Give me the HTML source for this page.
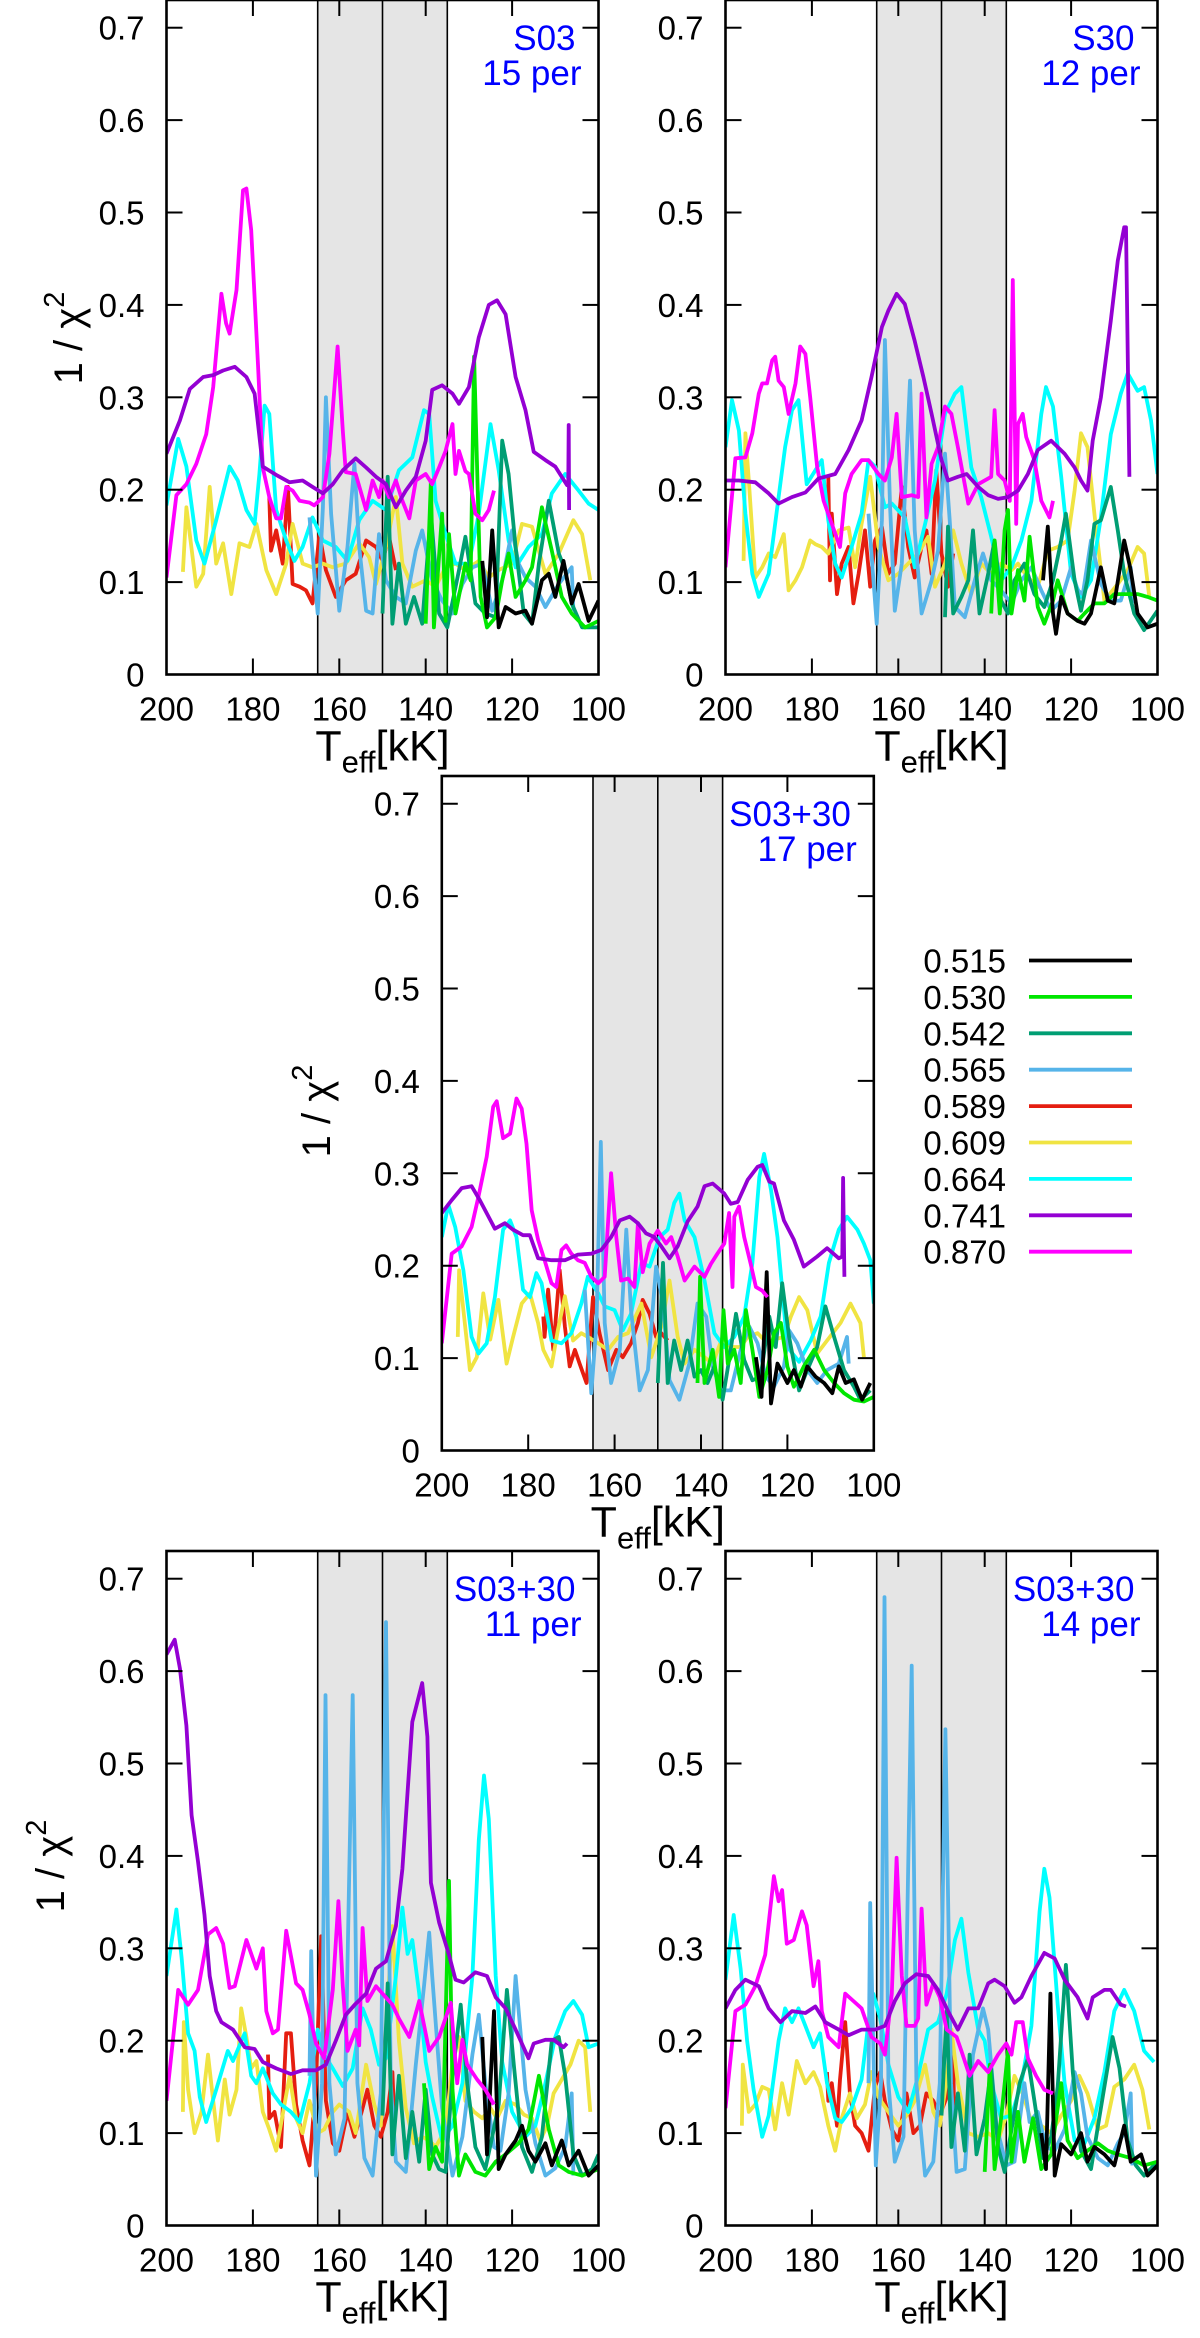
<!DOCTYPE html>
<html><head><meta charset="utf-8"><title>1/chi2 vs Teff</title>
<style>
html,body{margin:0;padding:0;background:#fff;}
svg{display:block;font-family:"Liberation Sans",sans-serif;}
</style></head>
<body>
<svg id="chart" width="1200" height="2338" viewBox="0 0 1200 2338" xmlns="http://www.w3.org/2000/svg"></svg>
<script>
// ---- data (Teff in kK, values 1/chi^2) ----
const xTicks=[200,180,160,140,120,100];
const yTicks=[0,0.1,0.2,0.3,0.4,0.5,0.6,0.7];
const yTickLabels=['0','0.1','0.2','0.3','0.4','0.5','0.6','0.7'];
const bandEdges=[165,150,135];
const massLabels=['0.515','0.530','0.542','0.565','0.589','0.609','0.664','0.741','0.870'];

// Panel 1 (S03 15 per)
const P1_T_870=[200,197.7,195.4,193.1,190.8,189.2,187.3,186.2,185.4,183.8,182.3,181.5,180.4,178.8,177.7,176.2,174.6,173.5,172.3,170.8,169.2,166.9,165.8,163.8,162.3,160.4,159.2,158.5,156.2,153.8,152.3,150.8,150,148.5,146.9,145.4,143.8,142.3,140,138.5,136.9,135.4,133.8,133.1,132.3,130.8,130,128.5,126.9,125.4,124.2];
const P1_V_870=[.105,.194,.206,.228,.26,.311,.412,.38,.369,.416,.524,.526,.481,.333,.224,.192,.169,.169,.203,.199,.188,.186,.183,.192,.239,.355,.264,.219,.217,.178,.21,.192,.21,.192,.21,.188,.169,.21,.217,.206,.224,.242,.271,.217,.242,.22,.217,.174,.167,.178,.199];
const P1_T_741=[200,196.9,194.6,191.5,189.2,186.9,184.2,181.5,179.6,177.7,174.6,171.5,168.5,166.2,163.8,161.5,159.2,156.2,153.8,151.5,149.2,146.9,144.6,142.3,140,138.5,136.2,133.8,132.3,130,127.7,125.4,123.5,121.5,119.2,116.9,115,112.3,110,107.3,107,106.9,106.8];
const P1_V_741=[.239,.275,.309,.322,.324,.329,.333,.322,.304,.225,.216,.208,.21,.203,.196,.206,.221,.234,.224,.214,.206,.181,.199,.214,.253,.308,.313,.304,.293,.311,.365,.4,.405,.39,.322,.286,.241,.232,.225,.205,.21,.27,.178];
const P1_T_664=[200,197.3,195.4,193.1,191.2,188.5,185.4,183.5,181.5,179.6,178.5,177.3,176.2,174.6,172.3,170.4,168.5,166.2,163.8,160.8,158.1,155.4,152.3,149.2,146.2,143.1,140.4,139.2,137.7,135.4,133.1,130,127.7,125,123.1,120.8,119.2,116.2,113.1,110.8,107.7,104.6,102.3,100];
const P1_V_664=[.183,.255,.225,.145,.12,.167,.225,.21,.178,.163,.217,.291,.282,.178,.145,.123,.138,.17,.145,.138,.123,.167,.188,.178,.221,.235,.286,.282,.188,.152,.12,.12,.174,.271,.221,.145,.116,.138,.152,.196,.217,.199,.185,.178];
const P1_T_609=[196.2,195.4,193.1,191.5,190,188.5,186.9,185,183.1,180.8,179.2,176.9,174.6,172.3,170.8,168.5,166.2,163.8,161.5,158.5,155.4,153.1,151.5,149.2,146.9,145.4,143.1,140,137.7,135.4,133.1,130.8,127.7,125.4,123.1,120,117.7,115.4,112.3,109.2,105.8,103.8,101.9];
const P1_V_609=[.111,.181,.095,.109,.203,.12,.142,.087,.142,.138,.163,.113,.087,.12,.163,.12,.116,.12,.116,.12,.142,.127,.098,.138,.192,.12,.095,.102,.095,.116,.12,.113,.123,.105,.113,.12,.163,.16,.109,.131,.167,.152,.102];
const P1_T_589=[176.2,175.8,174.6,173.1,171.9,170.8,169.2,167.7,166.2,164.6,163.1,160.8,158.5,156.2,153.8,151.5,150,148.5,146.9];
const P1_V_589=[.192,.134,.156,.12,.203,.098,.095,.091,.077,.152,.113,.084,.102,.109,.145,.138,.123,.149,.113];
const P1_T_565=[166.9,165,163.8,163.1,161.9,160,158.1,156.5,155.4,153.8,152.3,150.8,149.2,146.9,144.6,142.3,140.8,138.5,136.2,133.8,131.5,129.2,126.9,124.6,122.3,120,118.5,116.9,114.6,112.3,109.2,106.2,105.8];
const P1_V_565=[.17,.066,.181,.3,.174,.069,.138,.228,.138,.069,.066,.152,.102,.084,.077,.134,.156,.102,.08,.066,.098,.116,.12,.069,.102,.156,.12,.105,.095,.073,.098,.116,.069];
const P1_T_542=[150,148.8,147.7,146.2,144.6,142.7,140.8,138.8,136.9,135,132.3,130.8,128.5,126.2,123.8,122.3,120.8,119.2,117.3,115.4,113.8,111.5,109.2,107.7,106.2,103.8,100];
const P1_V_542=[.066,.214,.055,.12,.055,.084,.055,.174,.066,.051,.113,.149,.077,.066,.062,.253,.217,.138,.066,.055,.12,.188,.131,.113,.077,.051,.051];
const P1_T_530=[140,138.8,138.1,136.2,135.4,134.6,133.1,130.8,129.6,128.8,127.3,125.8,123.8,122.3,120.8,119.2,116.9,115.4,113.1,110.8,108.5,106.2,103.1,100];
const P1_V_530=[.055,.21,.051,.174,.058,.152,.066,.12,.102,.344,.084,.051,.062,.102,.131,.084,.102,.116,.181,.134,.084,.066,.051,.058];
const P1_T_515=[126.9,125.8,124.6,123.1,121.5,119.2,116.9,115.4,113.1,111.5,110,108.1,106.2,104.6,102.3,100];
const P1_V_515=[.123,.062,.156,.051,.073,.066,.069,.055,.102,.109,.084,.123,.077,.098,.058,.08];

// Panel 2 (S30 12 per)
const P2_T_741=[200,196.9,193.1,190,187.7,184.6,181.5,178.5,174.6,171.5,168.5,166.2,163.8,162.3,160.4,158.5,156.2,154.2,152.3,150,148.5,146.2,144.2,141.5,139.2,136.9,134.6,132.3,130,127.7,124.6,121.5,119.2,117.7,116.2,115,113.1,110.8,109.2,107.7,107.3,106.5];
const P2_V_741=[.21,.21,.208,.196,.185,.192,.197,.212,.217,.243,.275,.322,.376,.394,.412,.401,.361,.322,.282,.232,.21,.214,.217,.203,.194,.19,.192,.199,.217,.243,.253,.239,.224,.21,.199,.253,.3,.383,.448,.484,.484,.214];
const P2_T_870=[200,197.7,195.4,193.8,192.3,191.5,190.4,189.2,188.5,187.7,186.5,185.4,183.8,182.7,181.5,180.4,178.8,177.3,175.4,173.5,172.3,170.8,168.5,166.9,164.6,163.1,161.5,160.4,159.2,156.9,155.4,154.6,153.5,152.3,150.8,149.2,147.7,146.2,143.8,141.5,138.5,137.7,136.9,135.4,134.2,133.5,132.7,132.3,131.2,130.4,128.5,126.9,125,124.2];
const P2_V_870=[.116,.234,.235,.261,.304,.315,.315,.34,.344,.318,.311,.282,.315,.355,.347,.3,.225,.188,.163,.138,.196,.217,.232,.232,.217,.21,.235,.282,.192,.194,.192,.304,.17,.228,.246,.29,.282,.246,.185,.206,.214,.286,.217,.21,.188,.427,.163,.271,.282,.257,.232,.188,.17,.188];
const P2_T_664=[200,198.5,196.9,195.4,193.8,192.3,190,187.7,186.2,184.6,183.1,181.2,179.2,177.7,176.2,174.6,173.1,170.8,168.5,166.9,165.4,163.1,161.5,158.5,156.2,153.8,151.5,149.2,146.9,145.4,143.1,140.8,138.5,136.2,133.8,131.5,129.2,126.9,125.8,124.2,122.3,120,117.7,115.4,113.1,110.8,108.5,106.9,104.6,103.1,101.5,100];
const P2_V_664=[.246,.297,.264,.174,.109,.084,.109,.192,.246,.286,.297,.206,.221,.232,.167,.12,.105,.138,.174,.232,.225,.181,.185,.17,.116,.163,.21,.282,.304,.311,.224,.192,.149,.102,.116,.145,.188,.282,.311,.29,.214,.109,.084,.102,.17,.26,.304,.326,.307,.311,.275,.217];
const P2_T_609=[195.8,195.4,194.6,193.1,191.5,190,188.5,186.5,185.4,183.8,182.3,180.4,179.2,177.7,176.2,173.8,171.5,170,168.5,166.5,164.6,162.3,160,157.7,155.4,153.1,151.5,149.2,147.3,145.4,143.1,140.8,138.5,136.2,133.8,132.3,130,127.7,125.4,123.1,120.8,119.2,117.7,116.2,114.6,112.3,109.2,106.9,104.6,103.1,101.9];
const P2_V_609=[.123,.261,.21,.105,.116,.131,.127,.152,.091,.102,.116,.145,.141,.138,.131,.156,.159,.116,.163,.214,.138,.102,.109,.12,.131,.149,.095,.12,.156,.12,.087,.12,.109,.12,.113,.12,.105,.095,.134,.138,.145,.199,.261,.246,.174,.08,.098,.113,.138,.131,.084];
const P2_T_589=[176.2,175.8,175.4,174.2,173.1,171.5,170.4,169.2,167.7,166.5,165.4,163.8,162.3,160.8,159.2,157.7,156.2,154.6,153.5,152.3,151.2,150,148.5,147.3];
const P2_V_589=[.214,.102,.174,.087,.12,.138,.077,.109,.156,.095,.145,.16,.109,.12,.203,.138,.105,.138,.156,.109,.221,.131,.095,.131];
const P2_T_565=[166.9,165,163.8,163.1,161.9,160.8,159.2,157.3,156.2,154.6,152.3,150.8,149.2,148.1,146.9,144.6,142.3,140.4,138.5,136.2,133.8,131.5,129.2,126.9,124.6,122.3,120,118.5,117.3,115.4,113.1,110.8,108.5,106.2,105.8];
const P2_V_565=[.174,.055,.167,.362,.181,.069,.12,.318,.156,.066,.102,.134,.239,.167,.073,.062,.102,.131,.102,.091,.077,.102,.116,.091,.069,.08,.116,.091,.087,.145,.098,.08,.08,.116,.077];
const P2_T_542=[149.2,148.5,147.3,145.4,143.8,142.7,141.2,139.2,137.7,136.2,134.6,133.1,130.8,128.5,126.2,124.2,122.3,121.2,119.2,117.7,116.2,114.6,113.1,110.8,109.2,107.7,105.4,103.1,100];
const P2_V_542=[.062,.16,.066,.084,.102,.156,.066,.109,.145,.08,.066,.102,.12,.087,.073,.102,.145,.174,.102,.069,.102,.163,.167,.203,.156,.109,.066,.048,.069];
const P2_T_530=[138.5,137.7,136.5,135.4,134.6,133.8,132.3,130.8,129.6,127.7,126.2,124.2,123.1,120.8,118.5,116.9,114.6,112.3,110,107.7,104.6,102.3,100];
const P2_V_530=[.066,.145,.066,.156,.178,.066,.113,.08,.149,.073,.055,.08,.102,.066,.058,.066,.077,.077,.087,.087,.087,.084,.08];
const P2_T_515=[126.5,125.4,124.2,123.5,122.3,120.8,118.5,116.9,115.4,113.1,111.5,110,107.7,106.2,104.6,102.3,100];
const P2_V_515=[.102,.16,.066,.044,.084,.066,.058,.055,.066,.116,.08,.077,.145,.113,.066,.051,.055];

// Panel 3 (S03+30 17 per)
const P3_T_741=[200,197.7,195.4,193.1,191.2,187.7,185.4,183.5,181.2,179.6,177.7,174.6,171.5,168.5,165.4,163.1,160.8,158.8,156.5,154.6,152.7,150.8,149.2,147.3,145.4,143.1,140.8,139.2,137.3,134.6,133.1,131.5,129.2,126.9,125.8,124.2,123.1,120.8,118.5,116.2,113.1,110.8,108.1,107.3,107.1,106.8];
const P3_V_741=[.257,.271,.284,.286,.271,.24,.246,.239,.233,.233,.208,.206,.206,.212,.213,.217,.231,.249,.253,.246,.235,.231,.221,.208,.221,.248,.264,.286,.289,.278,.267,.269,.293,.307,.309,.291,.289,.249,.228,.199,.21,.219,.208,.21,.295,.188];
const P3_T_870=[200,197.7,195.4,193.1,191.5,189.6,188.1,187.3,185.8,184.2,182.7,181.5,180.4,179.2,177.7,176.2,174.6,173.5,172.3,171.2,170,168.5,166.9,165.4,163.8,162.3,160.8,159.6,158.5,156.9,155.4,154.6,153.5,151.9,150,148.1,146.9,145.4,143.8,141.5,139.2,137.7,136.2,134.6,133.5,132.7,132.3,131.2,130,128.5,127.3,125.8,124.6];
const P3_V_870=[.116,.213,.221,.242,.275,.318,.372,.378,.338,.343,.381,.37,.332,.26,.228,.206,.181,.177,.217,.222,.213,.206,.203,.188,.181,.188,.3,.231,.184,.186,.177,.246,.193,.224,.238,.224,.231,.21,.184,.199,.188,.202,.213,.224,.257,.177,.253,.264,.231,.202,.177,.173,.166];
const P3_T_664=[200,198.5,196.9,195,193.1,191.5,189.6,187.7,185.8,184.2,182.7,181.2,179.6,178.1,176.9,174.6,172.3,170,167.7,166.2,163.8,162.3,160,158.1,156.2,153.8,151.9,149.6,147.7,146.2,145,143.8,141.5,139.2,136.9,134.6,132.3,130,128.1,126.5,125.4,123.8,122.3,120,117.3,114.6,112.3,110.4,108.1,106.2,103.8,102.3,100.8,100];
const P3_V_664=[.231,.266,.242,.195,.123,.105,.116,.166,.239,.249,.231,.174,.166,.192,.181,.119,.116,.127,.159,.188,.17,.156,.152,.13,.148,.203,.199,.231,.239,.268,.278,.249,.231,.184,.127,.112,.123,.145,.203,.296,.321,.282,.231,.112,.096,.119,.145,.203,.239,.253,.239,.224,.206,.159];
const P3_T_609=[196.3,196,195,193.5,191.9,190.4,188.8,186.9,185,183.5,181.5,179.6,177.7,176.5,174.6,173.1,171.5,169.6,167.7,166.2,163.8,161.5,159.2,156.9,153.8,151.5,149.2,147.3,145.4,143.8,141.5,139.2,137.3,135,133.1,130.8,129.2,126.9,124.6,123.1,120.8,119.2,117.3,115.4,113.1,110.8,107.7,105.4,103.1,102.3];
const P3_V_609=[.123,.195,.152,.087,.101,.17,.12,.163,.094,.123,.159,.17,.138,.109,.091,.131,.167,.119,.127,.123,.116,.109,.123,.127,.159,.101,.134,.184,.123,.094,.109,.101,.094,.123,.112,.112,.123,.127,.116,.12,.123,.145,.166,.152,.105,.119,.138,.159,.138,.101];
const P3_T_589=[176.5,176.2,175.4,174.2,172.7,171.5,170.4,169.2,168.1,166.5,165,163.5,161.5,159.6,158.1,156.2,154.6,153.5,151.9,150.4,149.2,147.7];
const P3_V_589=[.145,.123,.174,.109,.195,.134,.091,.109,.094,.073,.166,.127,.087,.109,.101,.116,.138,.163,.148,.123,.127,.119];
const P3_T_565=[166.9,165.4,164.2,163.2,162.3,160.8,158.8,157.3,156.2,154.2,152.3,150.4,148.8,147.3,145,142.7,140.8,138.8,137.3,135.4,133.1,130.8,128.8,126.9,125,123.1,120.8,119.6,117.7,115.4,113.1,110.8,108.1,106.2,105.8];
const P3_V_565=[.174,.062,.138,.334,.138,.073,.109,.239,.152,.065,.087,.199,.159,.076,.055,.094,.159,.145,.091,.065,.065,.109,.134,.116,.08,.069,.091,.13,.116,.087,.073,.087,.094,.123,.094];
const P3_T_542=[150,148.8,147.7,146.2,144.6,143.1,141.5,140,138.5,136.9,135,133.5,131.9,130,128.1,126.2,124.2,122.7,121.2,119.6,117.3,115.4,113.1,111.2,109.2,106.9,104.6,103.1,100.8];
const P3_V_542=[.073,.203,.073,.119,.087,.119,.08,.087,.073,.091,.055,.098,.148,.098,.076,.08,.145,.112,.181,.123,.065,.087,.112,.156,.123,.087,.069,.055,.065];
const P3_T_530=[140.8,140.2,139.2,137.3,135.8,134.8,133.8,132.3,130.8,129.6,128.1,126.5,124.6,123.1,121.5,120,118.5,116.2,113.8,111.5,109.2,106.9,104.6,102.3,100];
const P3_V_530=[.073,.188,.073,.109,.058,.152,.094,.109,.073,.152,.109,.058,.087,.127,.138,.091,.069,.091,.109,.087,.073,.062,.055,.053,.058];
const P3_T_515=[127.3,126,124.8,123.8,122.3,120,118.5,116.9,115.4,113.5,111.5,109.6,108.1,106.5,104.6,102.7,100.8];
const P3_V_515=[.101,.058,.193,.051,.094,.073,.087,.069,.091,.08,.073,.062,.091,.073,.077,.055,.073];

// Panel 4 (S03+30 11 per)
const P4_T_741=[200,198.1,196.9,195.4,194.2,192.7,191.2,190,188.5,187.3,184.6,181.9,179.6,177.7,174.6,171.2,168.5,165.4,163.1,160.8,158.5,156.2,153.8,151.5,149.2,146.9,145.4,143.1,140.8,139.6,138.8,136.9,134.6,133.1,131.2,128.5,125.8,123.8,121.5,119.2,116.2,115,112.3,110.4,108.1,107.3];
const P4_V_741=[.618,.634,.603,.541,.444,.394,.336,.27,.232,.22,.212,.193,.191,.177,.17,.164,.168,.168,.174,.2,.228,.24,.251,.278,.286,.324,.386,.545,.587,.529,.371,.328,.293,.266,.263,.274,.27,.247,.235,.212,.181,.197,.201,.201,.193,.197];
const P4_T_870=[200,197.3,195,192.7,190.4,188.5,186.9,185.4,184.2,181.5,179.2,177.7,176.9,175.4,174.2,172.3,170,168.5,166.9,165.4,163.5,161.5,160.2,159.2,158.1,156.2,155.4,154.6,153.5,151.5,150,147.7,146.2,143.8,141.5,139.2,136.9,134.2,132.7,131.5,130.4,128.1,126.2,124.2];
const P4_V_870=[.135,.255,.239,.255,.315,.322,.305,.257,.259,.309,.278,.3,.232,.208,.212,.319,.262,.255,.228,.197,.181,.255,.351,.259,.189,.212,.195,.322,.243,.259,.251,.239,.224,.204,.243,.189,.204,.241,.154,.201,.174,.158,.147,.131];
const P4_T_664=[200,197.7,196.5,195,193.5,192.3,190.8,188.5,185.8,184.6,181.9,180.4,179.2,177.7,175.4,173.5,171.2,169.2,166.9,165,163.5,161.5,159.2,156.9,154.6,152.7,150.8,149.2,146.9,145.4,144.2,143.1,141.5,140,138.5,136.2,133.8,131.5,129.2,127.7,126.5,125.4,123.8,122.3,120,116.9,114.6,112.3,110,107.7,105.8,103.8,102.3,100];
const P4_V_664=[.27,.342,.29,.208,.189,.139,.112,.147,.189,.178,.208,.162,.154,.17,.143,.131,.123,.112,.154,.212,.185,.17,.151,.17,.235,.212,.174,.181,.27,.344,.294,.309,.251,.177,.139,.092,.108,.154,.27,.417,.487,.44,.27,.177,.123,.096,.108,.154,.204,.232,.243,.228,.193,.197];
const P4_T_609=[196.2,196,195,193.5,191.9,190.4,189.2,188.1,186.5,185.4,183.8,182.7,181.5,180.4,179.2,177.7,176.2,174.6,173.1,171.5,170,168.5,166.9,165,163.5,161.5,160,157.7,156.2,153.8,151.9,150.4,149.2,147.7,146.2,144.6,142.7,140.8,139.2,137.7,135.4,133.8,132.3,130.8,128.8,126.9,125,123.5,121.5,119.2,117.3,115.4,113.5,111.9,110.4,108.5,106.5,104.6,103.1,101.9];
const P4_V_609=[.123,.22,.147,.1,.123,.185,.135,.092,.158,.12,.147,.235,.204,.17,.178,.123,.104,.081,.12,.162,.116,.1,.135,.1,.104,.123,.131,.123,.1,.174,.131,.108,.212,.324,.2,.127,.089,.096,.092,.085,.104,.177,.204,.135,.123,.116,.127,.116,.135,.131,.12,.116,.092,.108,.143,.158,.174,.2,.193,.123];
const P4_T_589=[176.5,176.2,175,173.5,172.3,171.2,170,168.5,166.9,165.4,164.2,163.1,161.5,160,158.1,156.5,155,153.5,151.9,150.4,148.8,147.7,147.3];
const P4_V_589=[.185,.116,.123,.085,.208,.208,.131,.092,.065,.154,.313,.135,.089,.081,.123,.096,.12,.147,.108,.096,.123,.166,.116];
const P4_T_565=[166.9,166.5,165.4,164,163.2,162.3,160.8,158.8,156.9,155.8,154.2,152.3,150.4,149.2,148.1,146.9,144.6,142.3,140.4,139.2,138.5,136.2,133.8,131.5,129.2,127.7,126.2,124.2,122.7,120.8,119.2,118.1,116.9,114.6,112.3,110,107.7,106.2,105.8];
const P4_V_565=[.162,.297,.054,.154,.574,.154,.077,.116,.574,.154,.073,.054,.143,.653,.154,.069,.058,.174,.259,.317,.27,.127,.054,.096,.185,.228,.154,.085,.081,.143,.27,.212,.147,.089,.054,.062,.085,.143,.054];
const P4_T_542=[150,148.8,147.7,146.2,144.6,143.1,141.5,140,138.5,136.9,135.4,133.8,131.9,130.4,128.5,126.2,124.6,123.1,121.2,119.6,117.7,115.4,113.1,110.8,109.2,107.7,105.8,103.8,101.5,100];
const P4_V_542=[.119,.262,.077,.162,.073,.123,.069,.147,.077,.061,.058,.162,.239,.154,.085,.061,.096,.131,.255,.174,.085,.058,.096,.2,.204,.162,.077,.054,.061,.077];
const P4_T_530=[140.4,139.2,137.7,136.2,134.6,133.8,132.3,130.8,128.5,126.2,123.8,121.5,118.5,116.2,113.8,111.5,109.2,106.9,103.8,100];
const P4_V_530=[.154,.061,.085,.069,.373,.147,.054,.077,.058,.054,.069,.077,.089,.104,.162,.104,.065,.058,.054,.061];
const P4_T_515=[126.9,125.8,124.2,123.1,121.5,119.2,117.7,116.2,114.6,112.3,110.8,108.5,106.9,104.6,102.3,100];
const P4_V_515=[.204,.077,.232,.061,.077,.092,.108,.081,.069,.089,.065,.092,.065,.081,.054,.065];

// Panel 5 (S03+30 14 per)
const P5_T_741=[200,197.7,195.4,192.3,190,187.3,184.6,181.5,179.2,176.9,173.8,171.5,168.5,165.4,163.1,160.8,158.5,155.8,153.1,150.8,148.5,146.2,143.8,141.5,139.2,137.7,135.4,133.1,131.5,129.2,126.2,123.8,121.5,118.5,116.2,115,112.3,110.8,108.5,107.3];
const P5_V_741=[.235,.255,.266,.259,.235,.22,.232,.23,.237,.22,.212,.206,.212,.212,.216,.243,.262,.272,.27,.255,.232,.212,.235,.235,.262,.266,.259,.241,.247,.27,.295,.289,.266,.247,.224,.247,.255,.255,.239,.237];
const P5_T_870=[200,197.7,195.4,193.1,190.8,188.8,187.7,186.9,185.8,184.2,182.3,181.2,179.6,178.5,177.7,176.2,173.8,172.3,170.4,168.5,166.2,164.2,163.1,161.5,160.4,159.2,158.1,156.2,155.4,154.6,153.5,151.9,150.4,148.8,146.5,145.4,143.5,141.5,139.2,136.9,135,133.8,132.7,131.2,130,128.1,126.2,124.2];
const P5_V_870=[.127,.232,.239,.259,.293,.378,.351,.363,.305,.309,.34,.325,.259,.286,.232,.204,.193,.251,.243,.235,.204,.197,.185,.251,.398,.27,.216,.216,.224,.343,.239,.262,.247,.212,.204,.189,.162,.178,.166,.185,.197,.185,.22,.22,.181,.162,.147,.143];
const P5_T_664=[200,198.1,196.5,195,193.5,191.5,190,187.7,186.2,184.6,183.1,181.5,179.6,178.1,176.5,174.6,173.1,170.8,168.5,166.9,165.8,164.2,162.3,160,157.7,155.4,153.1,150.8,148.8,146.9,145.4,143.8,141.5,140,138.5,136.2,133.8,131.5,129.2,127.3,126.2,125,123.1,121.5,119.2,116.9,114.6,112.3,110,107.7,105.4,103.1,100.8];
const P5_V_664=[.266,.336,.278,.2,.147,.096,.119,.2,.235,.22,.235,.216,.193,.208,.154,.116,.112,.127,.158,.22,.251,.224,.174,.139,.123,.162,.212,.22,.251,.309,.332,.274,.212,.2,.154,.116,.119,.154,.216,.34,.386,.355,.239,.154,.092,.089,.116,.166,.232,.255,.232,.189,.177];
const P5_T_609=[196.2,196,194.6,193.1,191.5,190,188.5,186.9,185.4,183.5,181.5,179.6,178.1,176.2,174.6,173.1,171.2,169.6,167.7,166.2,164.6,162.3,160,158.1,156.2,153.8,151.9,150.4,148.8,147.7,146.2,143.8,141.5,139.2,136.9,135,133.1,131.2,129.2,126.9,124.6,122.3,120,118.1,116.2,113.8,111.9,110,107.7,105.4,103.5,101.9];
const P5_V_609=[.108,.174,.123,.131,.15,.147,.104,.154,.12,.178,.154,.166,.15,.108,.081,.116,.143,.116,.131,.166,.139,.123,.108,.119,.135,.174,.123,.108,.158,.212,.154,.1,.096,.1,.092,.119,.162,.143,.112,.108,.1,.119,.135,.162,.143,.104,.108,.15,.158,.174,.147,.104];
const P5_T_589=[176.5,176.2,175.4,174.2,173.5,172.3,171.2,170,168.5,166.9,165.4,164.2,163.1,161.5,160,158.1,156.5,155,153.5,151.9,150.4,148.8,147.3,147.1];
const P5_V_589=[.166,.135,.154,.108,.158,.22,.143,.108,.1,.081,.15,.166,.135,.104,.092,.143,.1,.108,.143,.135,.119,.139,.189,.123];
const P5_T_565=[166.9,166.5,165.2,164,163.2,162.3,160.8,158.8,156.9,155.8,153.8,151.9,150.4,149.1,147.8,146.5,144.6,142.7,140.4,139.2,137.3,135,133.1,130.8,129.6,127.7,125.8,123.8,121.5,119.2,117.7,116.2,113.8,111.5,109.2,107.7,106.2,105.8];
const P5_V_565=[.154,.349,.065,.154,.68,.154,.069,.096,.606,.154,.054,.069,.154,.537,.154,.058,.061,.185,.235,.212,.108,.065,.069,.154,.112,.123,.085,.081,.104,.166,.143,.096,.073,.065,.089,.1,.143,.065];
const P5_T_542=[150,148.8,147.7,146.2,144.6,143.5,141.9,140,138.5,136.9,135.4,133.8,131.9,130,128.5,126.5,124.6,123.1,121.2,119.6,117.7,115.4,113.5,110.4,108.8,106.9,105,103.1,100];
const P5_V_542=[.119,.232,.085,.143,.081,.185,.077,.116,.17,.085,.058,.104,.154,.181,.135,.073,.096,.15,.282,.166,.081,.061,.116,.204,.17,.092,.065,.054,.069];
const P5_T_530=[140,138.8,137.7,136.2,134.6,133.8,132.3,130.8,128.8,126.9,124.6,122.3,120.8,118.5,116.2,113.8,111.5,109.2,106.2,103.1,100];
const P5_V_530=[.058,.174,.061,.116,.189,.069,.123,.069,.116,.061,.077,.154,.092,.073,.081,.089,.081,.077,.073,.065,.069];
const P5_T_515=[126.9,125.8,124.8,123.8,122.3,120,117.7,116.2,114.6,112.3,110,107.7,106.2,103.8,102.3,100];
const P5_V_515=[.1,.061,.251,.054,.088,.077,.1,.069,.085,.077,.065,.108,.069,.077,.054,.065];

// ---- layout / style ----
const COLORS={'515':'#000000','530':'#00e600','542':'#009e73','565':'#56b4e9','589':'#e51e10','609':'#f0e442','664':'#00ffff','741':'#9400d3','870':'#ff00ff'};
const ORDER=['589','609','664','565','542','530','515','870','741'];
const PW=432,PH=674.5,YMAX=0.73,LW=3.8;
const panels=[
 {id:'p1',x:166.5,y:0,ann:['S03','15 per'],ylab:[82,338],T:{'515':P1_T_515,'530':P1_T_530,'542':P1_T_542,'565':P1_T_565,'589':P1_T_589,'609':P1_T_609,'664':P1_T_664,'741':P1_T_741,'870':P1_T_870},V:{'515':P1_V_515,'530':P1_V_530,'542':P1_V_542,'565':P1_V_565,'589':P1_V_589,'609':P1_V_609,'664':P1_V_664,'741':P1_V_741,'870':P1_V_870}},
 {id:'p2',x:725.5,y:0,ann:['S30','12 per'],ylab:null,T:{'515':P2_T_515,'530':P2_T_530,'542':P2_T_542,'565':P2_T_565,'589':P2_T_589,'609':P2_T_609,'664':P2_T_664,'741':P2_T_741,'870':P2_T_870},V:{'515':P2_V_515,'530':P2_V_530,'542':P2_V_542,'565':P2_V_565,'589':P2_V_589,'609':P2_V_609,'664':P2_V_664,'741':P2_V_741,'870':P2_V_870}},
 {id:'p3',x:441.8,y:776,ann:['S03+30','17 per'],ylab:[330,1111],T:{'515':P3_T_515,'530':P3_T_530,'542':P3_T_542,'565':P3_T_565,'589':P3_T_589,'609':P3_T_609,'664':P3_T_664,'741':P3_T_741,'870':P3_T_870},V:{'515':P3_V_515,'530':P3_V_530,'542':P3_V_542,'565':P3_V_565,'589':P3_V_589,'609':P3_V_609,'664':P3_V_664,'741':P3_V_741,'870':P3_V_870}},
 {id:'p4',x:166.5,y:1551,ann:['S03+30','11 per'],ylab:[64,1866],T:{'515':P4_T_515,'530':P4_T_530,'542':P4_T_542,'565':P4_T_565,'589':P4_T_589,'609':P4_T_609,'664':P4_T_664,'741':P4_T_741,'870':P4_T_870},V:{'515':P4_V_515,'530':P4_V_530,'542':P4_V_542,'565':P4_V_565,'589':P4_V_589,'609':P4_V_609,'664':P4_V_664,'741':P4_V_741,'870':P4_V_870}},
 {id:'p5',x:725.5,y:1551,ann:['S03+30','14 per'],ylab:null,T:{'515':P5_T_515,'530':P5_T_530,'542':P5_T_542,'565':P5_T_565,'589':P5_T_589,'609':P5_T_609,'664':P5_T_664,'741':P5_T_741,'870':P5_T_870},V:{'515':P5_V_515,'530':P5_V_530,'542':P5_V_542,'565':P5_V_565,'589':P5_V_589,'609':P5_V_609,'664':P5_V_664,'741':P5_V_741,'870':P5_V_870}}
];
const NS='http://www.w3.org/2000/svg';
const svg=document.getElementById('chart');
function mk(tag,attrs,parent){const e=document.createElementNS(NS,tag);for(const k in attrs)e.setAttribute(k,attrs[k]);(parent||svg).appendChild(e);return e;}
function xs(p,T){return p.x+(200-T)/100*PW;}
function ys(p,v){return p.y+PH-v/YMAX*PH;}

const defs=mk('defs',{});
panels.forEach(p=>{
  const g=mk('g',{});
  
  
  const cp=mk('clipPath',{id:'clip-'+p.id},defs);
  mk('rect',{x:p.x,y:p.y,width:PW,height:PH},cp);
  const band=mk('rect',{x:xs(p,bandEdges[0]),y:p.y,width:xs(p,bandEdges[2])-xs(p,bandEdges[0]),height:PH,fill:'#e5e5e5'},g);
  
  
  bandEdges.forEach(t=>{
    const l=mk('line',{x1:xs(p,t),x2:xs(p,t),y1:p.y,y2:p.y+PH,stroke:'#000','stroke-width':1.6},g);
    
    
  });
  const sg=mk('g',{'clip-path':'url(#clip-'+p.id+')'},g);
  
  
  ORDER.forEach(k=>{
    const T=p.T[k],V=p.V[k];const n=Math.min(T.length,V.length);
    let d='';for(let i=0;i<n;i++){d+=(i?'L':'M')+xs(p,T[i]).toFixed(1)+' '+ys(p,V[i]).toFixed(1);}
    const path=mk('path',{d:d,fill:'none',stroke:COLORS[k],'stroke-width':LW,'stroke-linejoin':'round'},sg);
    
    
  });
  yTicks.forEach((v,i)=>{
    const y=ys(p,v);
    if(i>0){
      mk('line',{x1:p.x,x2:p.x+16,y1:y,y2:y,stroke:'#000','stroke-width':2},g);
      mk('line',{x1:p.x+PW-16,x2:p.x+PW,y1:y,y2:y,stroke:'#000','stroke-width':2},g);
    }
    const t=mk('text',{x:p.x-22,y:y+12,'text-anchor':'end','font-size':33,fill:'#000'},g);
    t.textContent=yTickLabels[i];
    
    
  });
  xTicks.forEach((T,i)=>{
    const x=xs(p,T);
    if(i>0&&i<xTicks.length-1){
      mk('line',{x1:x,x2:x,y1:p.y+PH,y2:p.y+PH-16,stroke:'#000','stroke-width':2},g);
      mk('line',{x1:x,x2:x,y1:p.y,y2:p.y+16,stroke:'#000','stroke-width':2},g);
    }
    const t=mk('text',{x:x,y:p.y+PH+46,'text-anchor':'middle','font-size':33,fill:'#000'},g);
    t.textContent=String(T);
    
    
  });
  const fr=mk('rect',{x:p.x,y:p.y,width:PW,height:PH,fill:'none',stroke:'#000','stroke-width':2.6},g);
  
  
  const a1=mk('text',{x:p.x+PW-23,y:p.y+50,'text-anchor':'end','font-size':35,fill:'#0000ff'},g);
  a1.textContent=p.ann[0];
  
  
  const a2=mk('text',{x:p.x+PW-17,y:p.y+85,'text-anchor':'end','font-size':35,fill:'#0000ff'},g);
  a2.textContent=p.ann[1];
  
  
  const xt=mk('text',{x:p.x+PW/2,y:p.y+PH+86,'text-anchor':'middle','font-size':43,fill:'#000'},g);
  
  
  const s1=mk('tspan',{},xt);s1.textContent='T';
  const s2=mk('tspan',{'font-size':31,dy:12},xt);s2.textContent='eff';
  const s3=mk('tspan',{dy:-12},xt);s3.textContent='[kK]';
  if(p.ylab){
    const yt=mk('text',{transform:'translate('+p.ylab[0]+','+p.ylab[1]+') rotate(-90)','text-anchor':'middle','font-size':40,fill:'#000'},g);
    
    
    const u1=mk('tspan',{},yt);u1.textContent='1 / \u03c7';
    const u2=mk('tspan',{'font-size':29,dy:-18},yt);u2.textContent='2';
  }
});
const lg=mk('g',{});


massLabels.forEach((m,i)=>{
  const cy=960.5+36.4*i;
  const key=m.slice(2);
  const t=mk('text',{x:1006,y:cy+12,'text-anchor':'end','font-size':33,fill:'#000'},lg);
  t.textContent=m;
  
  
  const l=mk('line',{x1:1029,x2:1132,y1:cy,y2:cy,stroke:COLORS[key],'stroke-width':LW},lg);
  
  
});
</script>
</body></html>
